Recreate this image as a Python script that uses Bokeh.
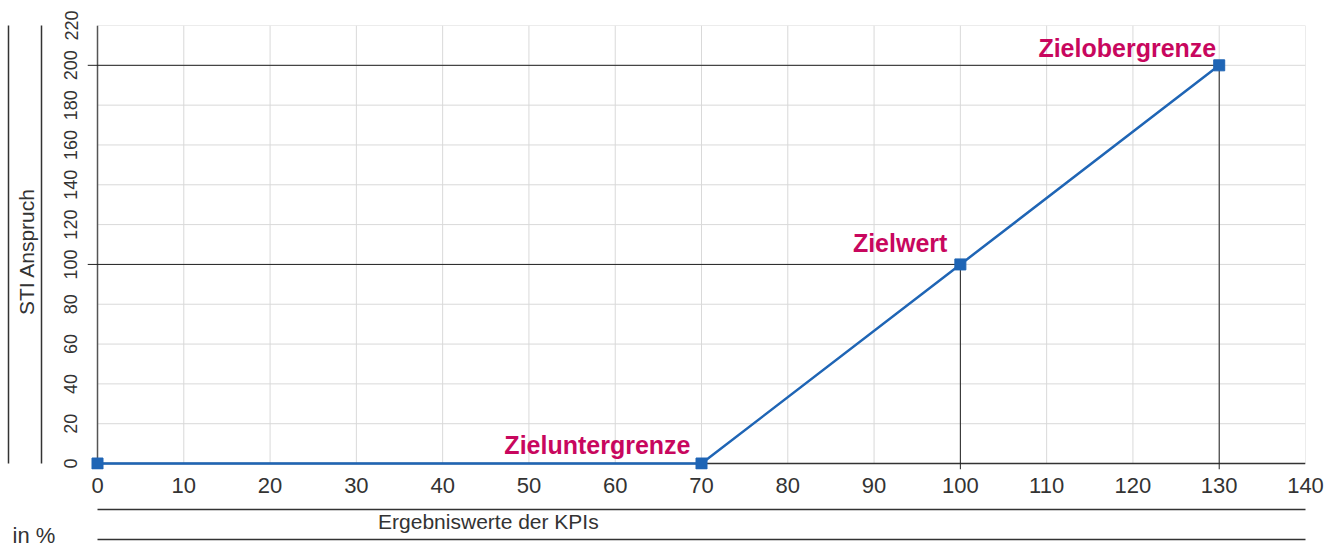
import math
from bokeh.plotting import figure
from bokeh.models import Range1d, FixedTicker, LinearAxis, Label, ColumnDataSource
from bokeh.core.properties import value
from bokeh.embed import file_html
from bokeh.resources import INLINE

# ---------------- data ----------------
kpi = [0, 70, 100, 130]
sti = [0, 0, 100, 200]
point_names = ["", "Zieluntergrenze", "Zielwert", "Zielobergrenze"]
x_ticks = list(range(0, 141, 10))
y_ticks = list(range(0, 221, 20))
ref_x = [100, 130]
ref_y = [100, 200]
x_title = "Ergebniswerte der KPIs"
y_title = "STI Anspruch"
unit_text = "in %"

# ---------------- layout / styles ----------------
FONT = "Liberation Sans"
TXT = "#333333"
BLUE = "#1f65b5"
MAGENTA = "#c8075e"
GRID = "#d9d9d9"
DARK = "#333333"
X_TITLE_AT = 45.3      # where the x caption is centred (data units)
Y_TITLE_AT = 106.5     # where the y caption is centred (data units)

x0, x1 = min(x_ticks), max(x_ticks)
y0, y1 = min(y_ticks), max(y_ticks)
xr = Range1d(x0 - 1.16, x1)
yr = Range1d(y0 - 3, y1)

p = figure(width=1339, height=548, x_range=xr, y_range=yr,
           x_axis_type=None, y_axis_type=None, output_backend="svg",
           toolbar_location=None, min_border_left=0, min_border_right=34,
           min_border_top=22, min_border_bottom=0)
p.outline_line_color = None
p.background_fill_color = "white"
p.border_fill_color = "white"
p.xgrid.visible = False
p.ygrid.visible = False


def axis(ticks, pad, bounds="auto", line=DARK, labels=None, size="21px",
         standoff=0, orient="horizontal"):
    a = LinearAxis(ticker=FixedTicker(ticks=ticks), major_tick_out=0, major_tick_in=0,
                   minor_tick_out=0, minor_tick_in=0, axis_line_color=line,
                   axis_line_width=1.5, major_label_text_font=FONT,
                   major_label_text_font_size=size, major_label_text_color=TXT,
                   major_label_standoff=standoff, major_label_orientation=orient,
                   axis_label=" ", axis_label_standoff=pad,
                   axis_label_text_font_size="1px", bounds=bounds)
    if labels:
        a.major_label_overrides = labels
    return a


# below: tick labels, caption line, caption, closing line
p.add_layout(axis(x_ticks, 10, line=None, size="22px", standoff=8), "below")
p.add_layout(axis([X_TITLE_AT], 0, bounds=(x0, x1), standoff=0,
                  labels={X_TITLE_AT: x_title}), "below")
p.add_layout(axis([], 5, bounds=(x0, x1), size="0px"), "below")

# left: tick labels, caption line, caption, closing line
p.add_layout(axis(y_ticks, 16, line=None, size="18px", standoff=10,
                  orient="vertical"), "left")
p.add_layout(axis([Y_TITLE_AT], 0, bounds=(y0, y1), standoff=3, orient="vertical",
                  labels={Y_TITLE_AT: y_title}), "left")
p.add_layout(axis([], 4, bounds=(y0, y1), size="0px"), "left")

# unit note, placed in the (unclipped) top border panel
p.add_layout(Label(x=-75, y=-510, x_units="screen", y_units="screen", text=unit_text,
                   text_font=FONT, text_font_size="22px", text_color=TXT,
                   text_align="left", text_baseline="alphabetic"), "above")

# grid lines from the tick lists
p.segment(x0=x_ticks, y0=[y0] * len(x_ticks), x1=x_ticks, y1=[y1] * len(x_ticks),
          line_color=GRID, line_width=1)
p.segment(x0=[x0] * len(y_ticks), y0=y_ticks, x1=[x1] * len(y_ticks), y1=y_ticks,
          line_color=GRID, line_width=1)

# axis lines
p.segment(x0=[x0], y0=[y0], x1=[x0], y1=[y1], line_color="#555555", line_width=1.5)
p.segment(x0=[x0], y0=[y0], x1=[x1], y1=[y0], line_color=DARK, line_width=1.5)

# reference lines (extend slightly past the axes like the original)
n = len(ref_x)
p.segment(x0=[xr.start] * n, y0=ref_y, x1=ref_x, y1=ref_y, line_color="#222222", line_width=1)
p.segment(x0=ref_x, y0=[yr.start] * n, x1=ref_x, y1=ref_y, line_color="#222222", line_width=1)

# series
p.line(kpi, sti, line_color=BLUE, line_width=2.5)
p.scatter(kpi, sti, marker="square", size=11, fill_color=BLUE, line_color=BLUE)

lbl = ColumnDataSource(dict(x=kpi[1:], y=sti[1:], t=point_names[1:],
                            dx=[-11, -13, -3], dy=[-19, -21, -17]))
p.text(x="x", y="y", text="t", source=lbl, x_offset="dx", y_offset="dy",
       text_align="right", text_baseline="alphabetic", text_font=value(FONT),
       text_font_style="bold", text_font_size="25px", text_color=MAGENTA)

open("out.html", "w").write(file_html(p, INLINE))
